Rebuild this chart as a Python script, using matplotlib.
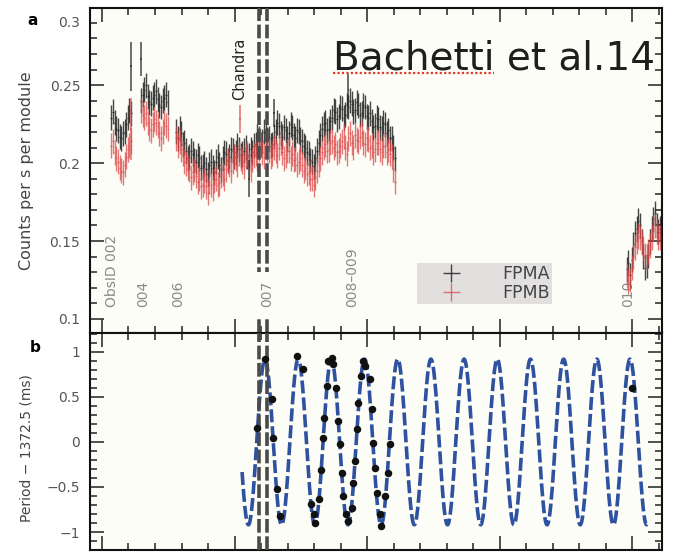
import numpy as np
import matplotlib
matplotlib.use("Agg")
import matplotlib.pyplot as plt
from matplotlib.ticker import MultipleLocator, NullFormatter, FixedLocator, FuncFormatter

# --- light curve (counts/s/module), bins of BIN days ---
BIN = 0.125
ERR = 0.008
t0_002, t0_004, t0_006, t0_010 = 0.7, 2.95, 5.6, 39.6

fpma_002 = [0.229, 0.233, 0.226, 0.222, 0.221, 0.217, 0.216, 0.219, 0.220, 0.225,
            0.229, 0.234, 0.232]
fpmb_002 = [0.211, 0.214, 0.207, 0.203, 0.201, 0.197, 0.195, 0.194, 0.199, 0.204,
            0.209, 0.211, 0.214]

fpma_004 = [0.240, 0.244, 0.247, 0.250, 0.243, 0.239, 0.238, 0.242, 0.244, 0.246,
            0.241, 0.237, 0.236, 0.240, 0.242, 0.244, 0.239]
fpmb_004 = [0.234, 0.231, 0.229, 0.232, 0.226, 0.222, 0.221, 0.225, 0.228, 0.226,
            0.224, 0.219, 0.216, 0.220, 0.226, 0.224, 0.222]

fpma_006 = [0.220, 0.216, 0.222, 0.219, 0.212, 0.213, 0.208, 0.203, 0.204, 0.208,
            0.206, 0.202, 0.201, 0.205, 0.203, 0.197, 0.198, 0.200, 0.196, 0.193,
            0.199, 0.201, 0.197, 0.194, 0.201, 0.204, 0.199, 0.196, 0.203, 0.207,
            0.206, 0.202, 0.204, 0.209, 0.208, 0.204, 0.207, 0.211, 0.209, 0.205,
            0.206, 0.208, 0.210, 0.204, 0.205, 0.209, 0.207, 0.211, 0.212, 0.217,
            0.216, 0.212, 0.214, 0.220, 0.219, 0.215, 0.216, 0.211, 0.212, 0.217,
            0.220, 0.226, 0.224, 0.219, 0.217, 0.223, 0.221, 0.216, 0.219, 0.225,
            0.223, 0.218, 0.216, 0.221, 0.220, 0.215, 0.214, 0.211, 0.210, 0.207,
            0.206, 0.202, 0.201, 0.198, 0.203, 0.208, 0.213, 0.218, 0.222, 0.225,
            0.226, 0.221, 0.222, 0.227, 0.229, 0.234, 0.233, 0.228, 0.230, 0.236,
            0.235, 0.229, 0.231, 0.237, 0.236, 0.240, 0.238, 0.233, 0.234, 0.239,
            0.237, 0.231, 0.232, 0.237, 0.236, 0.230, 0.229, 0.232, 0.227, 0.223,
            0.224, 0.229, 0.228, 0.223, 0.222, 0.226, 0.225, 0.219, 0.221, 0.216,
            0.216, 0.210, 0.203]
fpmb_006 = [0.216, 0.211, 0.214, 0.209, 0.206, 0.201, 0.200, 0.197, 0.196, 0.191,
            0.194, 0.196, 0.192, 0.188, 0.190, 0.185, 0.186, 0.189, 0.185, 0.181,
            0.188, 0.186, 0.184, 0.189, 0.190, 0.186, 0.187, 0.192, 0.193, 0.190,
            0.196, 0.201, 0.199, 0.195, 0.201, 0.204, 0.203, 0.199, 0.206, 0.203,
            0.201, 0.198, 0.204, 0.206, 0.199, 0.196, 0.202, 0.205, 0.206, 0.203,
            0.209, 0.212, 0.207, 0.204, 0.211, 0.209, 0.208, 0.204, 0.206, 0.210,
            0.208, 0.205, 0.210, 0.213, 0.207, 0.203, 0.205, 0.208, 0.208, 0.203,
            0.206, 0.202, 0.203, 0.199, 0.201, 0.203, 0.199, 0.195, 0.197, 0.193,
            0.194, 0.190, 0.190, 0.186, 0.191, 0.195, 0.199, 0.203, 0.207, 0.210,
            0.212, 0.208, 0.209, 0.213, 0.214, 0.210, 0.212, 0.207, 0.208, 0.211,
            0.214, 0.217, 0.210, 0.206, 0.216, 0.219, 0.213, 0.210, 0.218, 0.215,
            0.214, 0.217, 0.219, 0.213, 0.212, 0.216, 0.215, 0.210, 0.211, 0.207,
            0.209, 0.213, 0.213, 0.209, 0.207, 0.211, 0.211, 0.207, 0.209, 0.206,
            0.204, 0.196, 0.188]

fpma_010 = [0.132, 0.136, 0.128, 0.138, 0.148, 0.155, 0.158, 0.163, 0.160, 0.150,
            0.140, 0.133, 0.134, 0.141, 0.150, 0.158, 0.164, 0.168, 0.160, 0.156, 0.158]
fpmb_010 = [0.128, 0.124, 0.125, 0.133, 0.140, 0.146, 0.150, 0.153, 0.152, 0.149,
            0.145, 0.141, 0.140, 0.143, 0.147, 0.152, 0.158, 0.160, 0.156, 0.152, 0.152]

# bins with larger error bars
fpma_out_t = [2.2, 2.95, 11.1, 13.0, 18.6]
fpma_out_v = [0.262, 0.267, 0.190, 0.232, 0.247]
fpma_out_e = [0.016, 0.011, 0.012, 0.009, 0.010]
fpmb_out_t = [2.2, 10.4]
fpmb_out_v = [0.222, 0.228]
fpmb_out_e = [0.020, 0.009]

# ObsID labels (day, text)
obs_t = [0.75, 3.1, 5.75, 12.45, 18.9, 39.7]
obs_txt = ["ObsID 002", "004", "006", "007", "008\u2013009", "010"]
chandra_t = [11.85, 12.42]

# --- pulse period residuals (ms) ---
per_t = [11.70, 12.30, 12.83, 12.91, 13.21, 13.43, 14.72, 15.17, 15.77, 16.00,
         16.05, 16.38, 16.53, 16.68, 16.75, 16.98, 17.06, 17.36, 17.40, 17.66,
         17.81, 17.96, 18.11, 18.19, 18.42, 18.57, 18.87, 18.94, 19.09, 19.25,
         19.32, 19.55, 19.70, 19.85, 20.23, 20.38, 20.45, 20.60, 20.75, 20.98,
         21.06, 21.36, 21.58, 21.74, 40.00]
per_v = [0.16, 0.92, 0.48, 0.04, -0.52, -0.82, 0.95, 0.81, -0.69, -0.80,
         -0.90, -0.63, -0.31, 0.04, 0.27, 0.62, 0.90, 0.93, 0.87, 0.60,
         0.23, -0.02, -0.34, -0.60, -0.80, -0.88, -0.73, -0.46, -0.21, 0.14,
         0.43, 0.73, 0.90, 0.84, 0.70, 0.37, -0.01, -0.29, -0.57, -0.80,
         -0.93, -0.60, -0.34, -0.02, 0.60]

# orbital model
orb_amp = 0.92
orb_period = 2.504
orb_tpeak = 12.30
orb_start, orb_end = 10.57, 41.13

COL_A = "#262626"
COL_B = "#dc4a4a"
BG = "#fdfdf7"

plt.rcParams["font.family"] = ["DejaVu Sans"]

fig = plt.figure(figsize=(6.73, 5.52), dpi=100)
ax_a = fig.add_axes([0.1337, 0.3967, 0.850, 0.5888])
ax_b = fig.add_axes([0.1337, 0.0036, 0.850, 0.3931], sharex=ax_a)

# light curves
segs = [(t0_002, fpma_002, fpmb_002), (t0_004, fpma_004, fpmb_004),
        (t0_006, fpma_006, fpmb_006), (t0_010, fpma_010, fpmb_010)]
for i, (t0, a, b) in enumerate(segs):
    t = t0 + BIN * np.arange(len(a))
    ax_a.errorbar(t, a, yerr=ERR, xerr=BIN / 2, fmt="none", ecolor=COL_A,
                  elinewidth=1.0, alpha=0.85, zorder=3,
                  label="FPMA" if i == 0 else None)
for i, (t0, a, b) in enumerate(segs):
    t = t0 + BIN * np.arange(len(b))
    ax_a.errorbar(t, b, yerr=ERR, xerr=BIN / 2, fmt="none", ecolor=COL_B,
                  elinewidth=1.0, alpha=0.75, zorder=3,
                  label="FPMB" if i == 0 else None)
ax_a.errorbar(fpma_out_t, fpma_out_v, yerr=fpma_out_e, xerr=BIN / 2, fmt="none",
              ecolor=COL_A, elinewidth=1.1, alpha=0.85, zorder=3)
ax_a.errorbar(fpmb_out_t, fpmb_out_v, yerr=fpmb_out_e, xerr=BIN / 2, fmt="none",
              ecolor=COL_B, elinewidth=1.1, alpha=0.8, zorder=3)

# Chandra epoch
for ax in (ax_a, ax_b):
    for tc in chandra_t:
        ax.axvline(tc, color="#4a4a4a", lw=2.6, ls=(0, (3.8, 1.0)), zorder=5)

for tx, s in zip(obs_t, obs_txt):
    kw = {}
    if s == "007":
        kw = dict(bbox=dict(boxstyle="square,pad=0.65", fc=BG, ec="none"))
    ax_a.text(tx, 0.1077, s, rotation=90, ha="center", va="bottom",
              fontsize=10, color="#8a8a8a", zorder=6 if s == "007" else 2, **kw)
ax_a.text(10.42, 0.2404, "Chandra", rotation=90, ha="center", va="bottom",
          fontsize=10.5, color="#222222", zorder=6)

TITLE_FONT = dict(fontsize=28, family=["DejaVu Sans"])
ax_a.text(0.424, 0.812, "Bachetti et al.14", transform=ax_a.transAxes,
          ha="left", va="baseline", color="#1e1e1e", zorder=7, **TITLE_FONT)

leg = ax_a.legend(loc="upper left", bbox_to_anchor=(0.572, 0.215), borderaxespad=0,
                  fontsize=12.5, handlelength=3.7, handletextpad=1.1, borderpad=0.12,
                  labelspacing=0.05, frameon=True, fancybox=False,
                  facecolor="#e2dfdf", edgecolor="none", framealpha=1)
for txt in leg.get_texts():
    txt.set_color("#444444")

# period panel
t_model = np.linspace(orb_start, orb_end, 1500)
ax_b.plot(t_model, orb_amp * np.cos(2 * np.pi * (t_model - orb_tpeak) / orb_period),
          color="#2f52a0", lw=2.6, ls=(0, (3.6, 1.1)), zorder=3)
ax_b.errorbar(per_t, per_v, yerr=0.03, xerr=0.08, fmt="o", ms=4.4, color="#111111",
              ecolor="#111111", elinewidth=1, zorder=6)

# axes styling
ax_a.set_xlim(-0.906, 42.26)
ax_a.set_ylim(0.091, 0.2995)
ax_b.set_ylim(-1.2, 1.21)

for ax in (ax_a, ax_b):
    ax.set_facecolor(BG)
    ax.xaxis.set_major_locator(MultipleLocator(10))
    ax.xaxis.set_minor_locator(MultipleLocator(2))
    ax.xaxis.set_major_formatter(NullFormatter())
    ax.tick_params(which="both", direction="in", top=True, right=True,
                   colors="#333333", labelcolor="#555555", labelsize=10, width=1.2)
    ax.tick_params(which="major", length=10, pad=7)
    ax.tick_params(which="minor", length=5)
    for sp in ax.spines.values():
        sp.set_linewidth(1.5)
        sp.set_color("#111111")

ax_a.yaxis.set_major_locator(FixedLocator([0.1, 0.15, 0.2, 0.25, 0.3]))
ax_a.yaxis.set_minor_locator(MultipleLocator(0.01))
ax_a.set_yticklabels(["0.1", "0.15", "0.2", "0.25", ""])
ax_a.annotate("0.3", xy=(0, 0.3), xycoords=("axes fraction", "data"),
              xytext=(-7, -11), textcoords="offset points", ha="right", va="center",
              fontsize=10, color="#555555", annotation_clip=False)

ax_b.yaxis.set_major_locator(MultipleLocator(0.5))
ax_b.yaxis.set_minor_locator(MultipleLocator(0.1))
ax_b.yaxis.set_major_formatter(FuncFormatter(
    lambda v, p: ("%g" % v).replace("-", "\u2212")))

ax_a.set_ylabel("Counts per s per module", fontsize=11.5, color="#444444")
ax_a.yaxis.set_label_coords(-0.098, 0.498)
ax_b.set_ylabel("Period \u2212 1372.5 (ms)", fontsize=10, color="#444444")
ax_b.yaxis.set_label_coords(-0.098, 0.472)

fig.text(0.049, 0.962, "a", fontsize=11, fontweight="bold", ha="center", va="center")
fig.text(0.052, 0.371, "b", fontsize=11, fontweight="bold", ha="center", va="center")

# red spell-check style underline under "Bachetti"
fig.canvas.draw()
r = fig.canvas.get_renderer()
probe = ax_a.text(0.424, 0.812, "Bachetti", transform=ax_a.transAxes, ha="left",
                  va="baseline", alpha=0, **TITLE_FONT)
bb = probe.get_window_extent(r).transformed(ax_a.transAxes.inverted())
probe.remove()
ax_a.plot([bb.x0, bb.x1], [0.812 - 0.012] * 2, transform=ax_a.transAxes,
          color="#e03a2a", lw=1.6, ls=(0, (1, 1)), zorder=7)

fig.savefig("out.png", dpi=100)
